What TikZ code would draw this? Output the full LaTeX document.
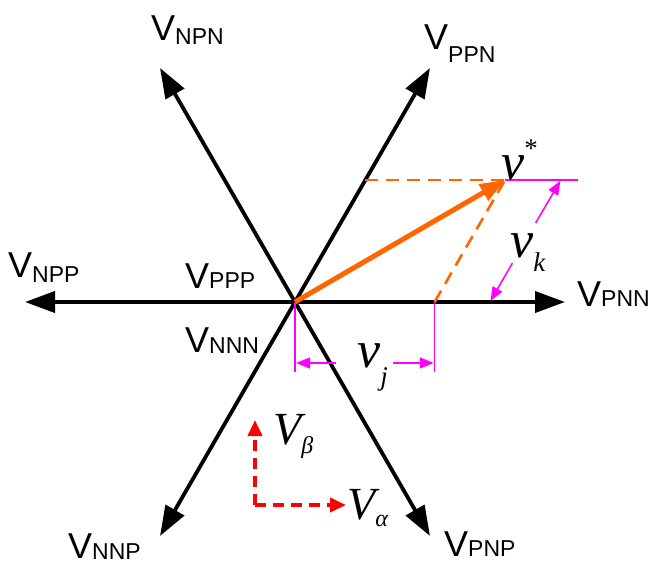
\documentclass[tikz,border=0pt]{standalone}
\usepackage{fontspec}
\setmainfont{Liberation Serif}
\newfontfamily\arialfont{Liberation Sans}
\usetikzlibrary{arrows.meta}
\definecolor{vorange}{RGB}{255,102,0}
\definecolor{vmag}{RGB}{255,0,255}
\definecolor{vred}{RGB}{255,0,0}
\newcommand\vlab[2][0pt]{{\arialfont\fontsize{36}{36}\selectfont V\raisebox{-#1}{\fontsize{23}{23}\selectfont #2}}}
\newcommand\ivlab[3]{{\itshape\fontsize{#1}{#1}\selectfont v\raisebox{-#3}{\fontsize{27}{27}\selectfont #2}}}
\begin{document}
\begin{tikzpicture}[x=1pt,y=-1pt,
  axis/.style={line width=3.8pt,-{Triangle[length=30pt,width=21pt]}},
  vec/.style={vorange,line width=5pt,-{Triangle[length=25pt,width=18pt]}},
  proj/.style={vorange,line width=2.6pt,dash pattern=on 13pt off 8pt},
  dim/.style={vmag,line width=1.5pt},
  dimarrow/.style={vmag,line width=1.5pt,-{Triangle[length=14pt,width=11pt]}},
  refax/.style={vred,line width=3.8pt,dash pattern=on 11pt off 7pt,-{Triangle[length=16pt,width=14pt]}},
  lab/.style={inner sep=0pt,anchor=base west}]
\useasboundingbox (0,0) rectangle (658,565);
% axes
\coordinate (O) at (295,302);
\coordinate (R) at (565,302);
\coordinate (L) at (25,302);
\coordinate (UR) at (430,68);
\coordinate (UL) at (160,68);
\coordinate (DL) at (160,536);
\coordinate (DR) at (430,536);
\foreach \t in {R,L,UR,UL,DL,DR} \draw[axis] (O) -- (\t);
% labels
\node[lab] (lNPN) at (151,40) {\vlab[4pt]{NPN}};
\node[lab] (lPPN) at (424,49) {\vlab[13pt]{PPN}};
\node[lab] (lNPP) at (8,277) {\vlab[5pt]{NPP}};
\node[lab] (lPPP) at (185,288) {\vlab[0pt]{PPP}};
\node[lab] (lNNN) at (185,352) {\vlab[1pt]{NNN}};
\node[lab] (lPNN) at (577,306) {\vlab[0pt]{PNN}};
\node[lab] (lNNP) at (68,558) {\vlab[1pt]{NNP}};
\node[lab] (lPNP) at (444,556) {\vlab[0pt]{PNP}};
% reference vector and projections
\coordinate (vs) at (505,180);
\coordinate (ph) at (365.4,180);
\coordinate (pj) at (434.6,302);
\draw[proj] (ph) -- (vs);
\draw[proj] (pj) -- (vs);
\draw[vec] (O) -- (vs);
% magenta dimensions
\coordinate (mh) at (578,180);
\draw[dim] (vs) -- (mh);
\coordinate (ej0) at (295,302); \coordinate (ej1) at (295,372);
\coordinate (ek0) at (434.6,302); \coordinate (ek1) at (434.6,372);
\draw[dim] (ej0) -- (ej1);
\draw[dim] (ek0) -- (ek1);
\coordinate (aj1s) at (336,363); \coordinate (aj1e) at (296,363);
\coordinate (aj2s) at (393,363); \coordinate (aj2e) at (433.8,363);
\draw[dimarrow] (aj1s) -- (aj1e);
\draw[dimarrow] (aj2s) -- (aj2e);
\coordinate (ak1s) at (535.6,223); \coordinate (ak1e) at (560.4,180.8);
\coordinate (ak2s) at (512.5,263); \coordinate (ak2e) at (490.5,301);
\draw[dimarrow] (ak1s) -- (ak1e);
\draw[dimarrow] (ak2s) -- (ak2e);
% italic labels
\node[lab] (tvs) at (501,179) {{\itshape\fontsize{52}{52}\selectfont v\raisebox{22pt}{\upshape\fontsize{27}{27}\selectfont *}}};
\node[lab] (tvk) at (510,257) {\ivlab{52}{k}{14pt}};
\node[lab] (tvj) at (357,367) {\ivlab{52}{j}{18pt}};
% alpha-beta frame
\coordinate (rc) at (255,505);
\coordinate (rb) at (255,420);
\coordinate (ra) at (346,505);
\draw[refax] (rc) -- (rb);
\draw[refax] (rc) -- (ra);
\node[lab] (tVb) at (273,444) {{\itshape\fontsize{46}{46}\selectfont V\raisebox{-9pt}{\fontsize{24}{24}\selectfont β}}};
\node[lab] (tVa) at (347,519) {{\itshape\fontsize{46}{46}\selectfont V\raisebox{-7pt}{\fontsize{24}{24}\selectfont α}}};
\end{tikzpicture}
\end{document}
